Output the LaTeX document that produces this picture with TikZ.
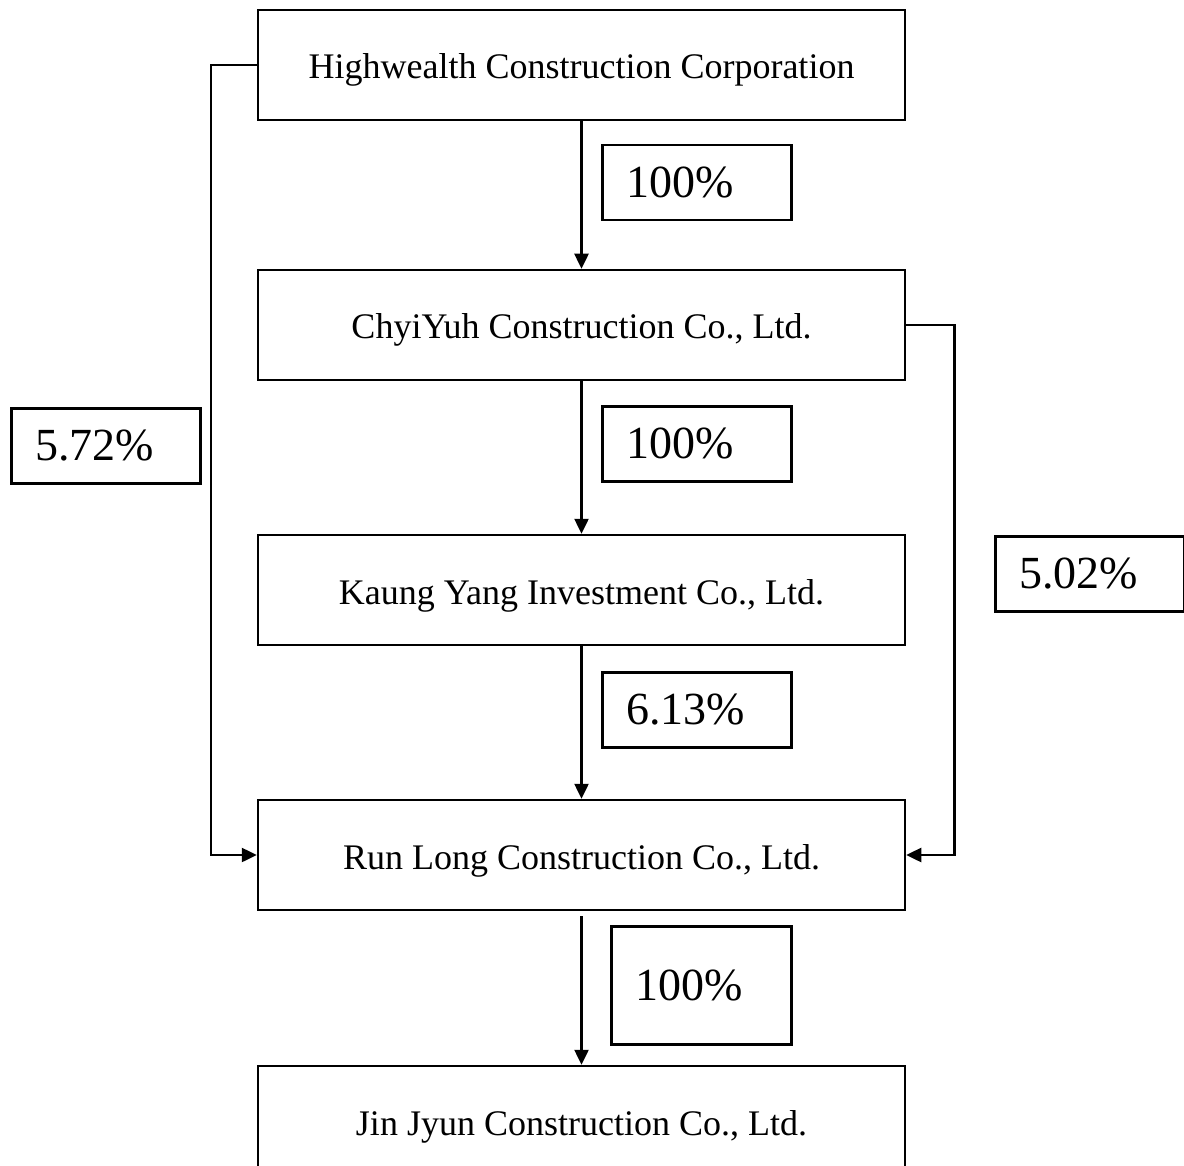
\documentclass[tikz,border=0pt]{standalone}
\usepackage{fontspec}
\setmainfont{Liberation Serif}
\usetikzlibrary{arrows.meta, positioning}

\begin{document}
\begin{tikzpicture}[x=1pt, y=-1pt]
  \tikzstyle{entity} = [rectangle, draw, line width=2.5pt, minimum width=647pt, minimum height=110pt, text height=28pt, text depth=0pt, font=\fontsize{36}{40}\selectfont]
  \tikzstyle{share} = [rectangle, draw, line width=2.5pt, minimum height=75pt, text width=141pt, inner xsep=24pt, align=left, anchor=north west, font=\fontsize{46}{50}\selectfont]
  \tikzstyle{arrow} = [line width=2.5pt, -{Triangle[length=15pt, width=14pt]}]

  \useasboundingbox (0,0) rectangle (1184,1166);

  \node [entity] (hw) at (581.5,65) {Highwealth Construction Corporation};
  \node [entity, below=147.5pt of hw] (cy) {ChyiYuh Construction Co., Ltd.};
  \node [entity, below=152.5pt of cy] (ky) {Kaung Yang Investment Co., Ltd.};
  \node [entity, below=152.5pt of ky] (rl) {Run Long Construction Co., Ltd.};
  \node [entity, below=153.5pt of rl] (jj) {Jin Jyun Construction Co., Ltd.};

  \node [share] (hwcy) at (601,144) {100\%};
  \node [share] (cyky) at (601,405) {100\%};
  \node [share] (kyrl) at (601,671) {6.13\%};
  \node [share, minimum height=118pt, text width=132pt] (rljj) at (610,925) {100\%};
  \node [share] (hwrl) at (10,407) {5.72\%};
  \node [share] (cyrl) at (994,535) {5.02\%};

  \draw [arrow] (hw) -- (cy);
  \draw [arrow] (cy) -- (ky);
  \draw [arrow] (ky) -- (rl);
  \draw [arrow] ([yshift=-5pt]rl.south) -- (jj);
  \draw [arrow] (hw.west) -- ++(-46,0) |- (rl.west);
  \draw [arrow] (cy.east) -- ++(48,0) |- (rl.east);
\end{tikzpicture}
\end{document}
